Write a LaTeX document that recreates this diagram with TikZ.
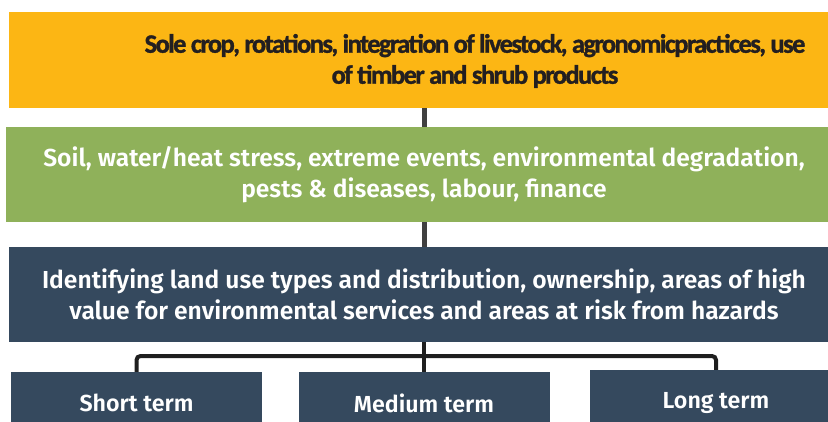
\documentclass[tikz,border=0pt]{standalone}
\usepackage{fontspec}
\setmainfont{Fira Sans}[BoldFont={Fira Sans SemiBold}]
\newfontfamily\tightfont{Carlito Bold}[LetterSpace=-6, FakeBold=1.2]
\definecolor{cOrange}{HTML}{FCB614}
\definecolor{cGreen}{HTML}{8FB15A}
\definecolor{cBlue}{HTML}{35495E}
\definecolor{cText}{HTML}{231F20}
\definecolor{cLineA}{HTML}{404040}
\definecolor{cLineB}{HTML}{1F1F1F}
\begin{document}
\begin{tikzpicture}[x=1pt,y=-1pt,
  band/.style={rectangle, inner sep=0pt, draw=none},
  whitetext/.style={text=white, font=\bfseries\fontsize{24.6}{31}\selectfont, align=center},
  termbox/.style={band, fill=cBlue, text=white, font=\bfseries\fontsize{23.2}{26}\selectfont},
  connA/.style={draw=cLineA, line width=5pt},
  connB/.style={draw=cLineB, line width=4pt, rounded corners=4pt}]
\useasboundingbox (0,0) rectangle (828,421);
% bands
\node[band, fill=cOrange, minimum width=830pt, minimum height=96pt] (top) at (424,60) {};
\node[text=cText, font=\tightfont\fontsize{26.5}{31}\selectfont, align=center, inner sep=0pt] (toptext) at (475,61)
  {Sole crop, rotations, integration of livestock, agronomicpractices, use\\of timber and shrub products};
\node[band, fill=cGreen, minimum width=836pt, minimum height=95pt, whitetext] (green) at (424,174.5)
  {Soil, water/heat stress, extreme events, environmental degradation,\\pests \& diseases, labour, finance};
\node[band, fill=cBlue, minimum width=830pt, minimum height=95pt, whitetext] (blue) at (424,294.5)
  {Identifying land use types and distribution, ownership, areas of high\\value for environmental services and areas at risk from hazards};
% terms
\node[termbox, minimum width=251pt, minimum height=62pt] (short) at (136.5,403) {Short term};
\node[termbox, minimum width=251pt, minimum height=62pt] (medium) at (424,403) {Medium term};
\node[termbox, minimum width=252pt, minimum height=66pt] (long) at (716,403) {Long term};
% connectors
\coordinate (bus) at (424,356);
\draw[connA] (top.south -| bus) -- (green.north -| bus);
\draw[connA] (green.south -| bus) -- (blue.north -| bus);
\draw[connB] (blue.south -| bus) -- (bus);
\draw[connB] (short.north) |- (bus) -| (long.north);
\draw[connB] (bus) -- (medium.north);
\end{tikzpicture}
\end{document}
